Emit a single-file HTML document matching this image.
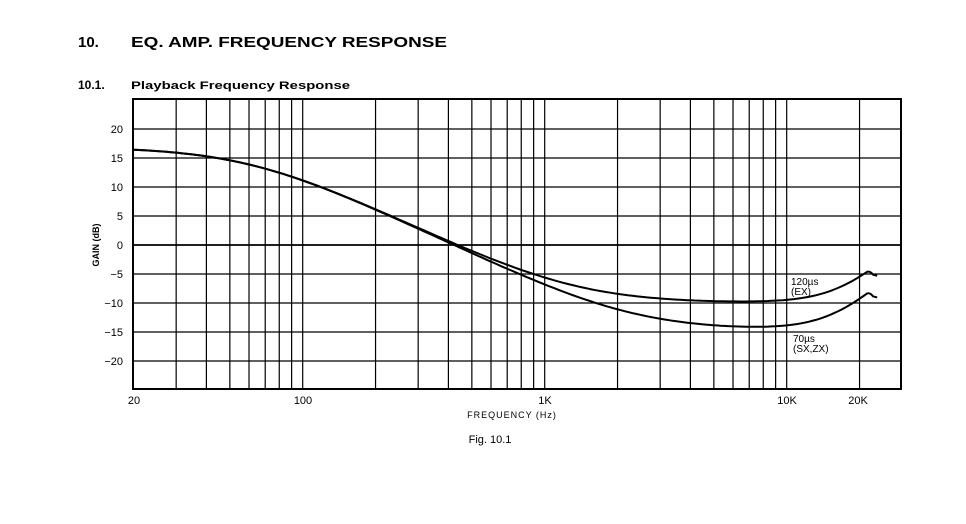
<!DOCTYPE html>
<html><head><meta charset="utf-8"><style>
html,body{margin:0;padding:0;background:#fff;}
svg{display:block;font-family:"Liberation Sans",sans-serif;}
</style></head><body>
<svg id="s" width="966" height="524" viewBox="0 0 966 524" xmlns="http://www.w3.org/2000/svg">
<text x="78" y="47" font-size="15" font-weight="bold">10.</text>
<text x="131" y="47" font-size="15" font-weight="bold" textLength="316" lengthAdjust="spacingAndGlyphs">EQ. AMP. FREQUENCY RESPONSE</text>
<text x="78" y="89" font-size="12" font-weight="bold">10.1.</text>
<text x="131" y="89" font-size="11" font-weight="bold" textLength="219" lengthAdjust="spacingAndGlyphs">Playback Frequency Response</text>
<g id="grid" stroke="#000" fill="none"></g>
<g font-size="11" text-anchor="end" id="yl"></g>
<text transform="translate(99,245) rotate(-90)" font-size="9" font-weight="bold" text-anchor="middle">GAIN (dB)</text>
<g font-size="11" text-anchor="middle">
<text x="134" y="404">20</text>
<text x="303" y="404">100</text>
<text x="545" y="404">1K</text>
<text x="787" y="404">10K</text>
<text x="858" y="404">20K</text>
</g>
<text x="512" y="418" font-size="9" text-anchor="middle" letter-spacing="1">FREQUENCY (Hz)</text>
<text x="490" y="443" font-size="11" text-anchor="middle">Fig. 10.1</text>
<g font-size="10">
<text x="791" y="285">120µs</text>
<text x="791" y="295">(EX)</text>
<text x="793" y="342">70µs</text>
<text x="793" y="352">(SX,ZX)</text>
</g>
<g id="curves" stroke="#000" stroke-width="2" fill="none"></g>
</svg>
<script>
var D=242;
function X(f){return 302.7+D*(Math.log10(f)-2);}
function Y(g){return 245-5.8*g;}
var g=document.getElementById('grid'),h='';
h+='<rect x="133" y="99" width="768" height="290" stroke-width="2"/>';
for(var v=-20;v<=20;v+=5){h+='<line x1="133" x2="901" y1="'+Y(v)+'" y2="'+Y(v)+'" stroke-width="'+(v==0?1.8:1.2)+'"/>';}
var fs=[30,40,50,60,70,80,90,100,200,300,400,500,600,700,800,900,1000,2000,3000,4000,5000,6000,7000,8000,9000,10000,20000];
fs.forEach(function(f){var x=X(f);h+='<line x1="'+x+'" x2="'+x+'" y1="99" y2="389" stroke-width="1.2"/>';});
g.innerHTML=h;
var yl='';[20,15,10,5,0,-5,-10,-15,-20].forEach(function(v){yl+='<text x="123" y="'+(Y(v)+4)+'">'+(v<0?'\u2212'+(-v):v)+'</text>';});
document.getElementById('yl').innerHTML=yl;
function G(f,fh,C,fr){return C+10*Math.log10((1+Math.pow(fh/f,2))/(1+Math.pow(60/f,2)))+10*Math.log10(1+Math.pow(f/fr,4));}
function curve(fh,C,fr){var p='';
 for(var i=0;i<=200;i++){var lf=Math.log10(20)+(Math.log10(21500)-Math.log10(20))*i/200;var f=Math.pow(10,lf);
  p+=(i?'L':'M')+X(f).toFixed(1)+','+Y(G(f,fh,C,fr)).toFixed(1);}
 var ex=X(21500),ey=Y(G(21500,fh,C,fr));
 p+='Q'+(ex+3)+','+(ey-1)+' '+(ex+6)+','+(ey+3)+'L'+(ex+10)+','+(ey+4);
 return '<path d="'+p+'"/>';}
document.getElementById('curves').innerHTML=curve(1326,-10,17200)+curve(2274,-14.69,16000);
</script>
</body></html>
